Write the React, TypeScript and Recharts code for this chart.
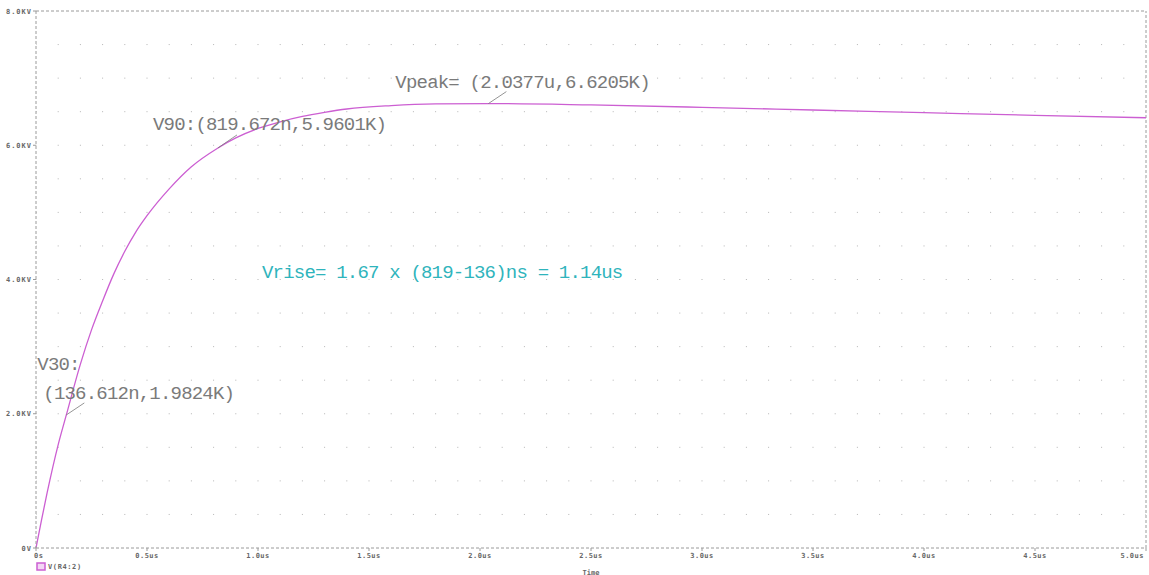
import {
  CartesianGrid,
  Line,
  LineChart,
  ReferenceDot,
  ReferenceLine,
  XAxis,
  YAxis,
} from "recharts";

// transient V(R4:2), time in us, voltage in kV
const TIME_US = [
  0, 0.025, 0.05, 0.1, 0.1366, 0.2, 0.25, 0.3, 0.35, 0.4, 0.45, 0.5, 0.6, 0.7,
  0.8197, 0.9, 1.0, 1.1, 1.2, 1.3, 1.4, 1.6, 1.8, 2.0377, 2.5, 3.0, 3.5, 4.0,
  4.5, 5.0,
];
const VOLT_KV = [
  0, 0.42, 0.82, 1.54, 1.9824, 2.74, 3.25, 3.68, 4.08, 4.42, 4.71, 4.95, 5.35,
  5.68, 5.9601, 6.11, 6.25, 6.35, 6.43, 6.49, 6.54, 6.59, 6.615, 6.6205, 6.6,
  6.565, 6.525, 6.485, 6.445, 6.41,
];
const X_TICKS = [0, 0.5, 1, 1.5, 2, 2.5, 3, 3.5, 4, 4.5, 5];
const X_LABELS = ["0s", "0.5us", "1.0us", "1.5us", "2.0us", "2.5us", "3.0us", "3.5us", "4.0us", "4.5us", "5.0us"];
const Y_TICKS = [0, 2, 4, 6, 8];
const Y_LABELS = ["0V", "2.0KV", "4.0KV", "6.0KV", "8.0KV"];
const GRID_ROWS = [0.5, 1, 1.5, 2, 2.5, 3, 3.5, 4, 4.5, 5, 5.5, 6, 6.5, 7, 7.5];

const CURVE = "#cc5fd2";
const FRAME = "#9a9a9a";
const NOTE = "#7a7a7a";
const CYAN = "#2fb4bc";
const TICK_FONT = "'DejaVu Sans Mono', monospace";
const NOTE_FONT = "'Liberation Mono', monospace";

const data = TIME_US.map((t, i) => ({ t, v: VOLT_KV[i] }));

const noteText = {
  fontFamily: NOTE_FONT,
  fontSize: 19,
  letterSpacing: -0.8,
  fill: NOTE,
};

export default function App() {
  const xTick = (props: any) => {
    const { x, y, payload, index } = props;
    const last = index === X_TICKS.length - 1;
    const anchor = index === 0 ? "start" : last ? "end" : "middle";
    const dx = index === 0 ? -2 : last ? -1 : 0;
    return (
      <text
        x={x + dx}
        y={y + 5}
        textAnchor={anchor}
        fontFamily={TICK_FONT}
        fontSize={7}
        fontWeight="bold"
        letterSpacing={0.5}
        fill="#666"
      >
        {X_LABELS[X_TICKS.indexOf(payload.value)]}
      </text>
    );
  };

  const yTick = (props: any) => {
    const { y, payload } = props;
    return (
      <text
        x={32}
        y={y + 2.5}
        textAnchor="end"
        fontFamily={TICK_FONT}
        fontSize={7}
        fontWeight="bold"
        letterSpacing={1}
        fill="#666"
      >
        {Y_LABELS[Y_TICKS.indexOf(payload.value)]}
      </text>
    );
  };

  const bottomLabel = (props: any) => {
    const vb = props.viewBox;
    return (
      <g>
        <rect x={vb.x + 1} y={vb.y + 15} width={8} height={7} fill="#f3d6f5" stroke={CURVE} strokeWidth={1.5} />
        <text x={vb.x + 12} y={vb.y + 21} fontFamily={TICK_FONT} fontSize={7} fontWeight="bold" letterSpacing={0.6} fill="#666">
          V(R4:2)
        </text>
        <text x={vb.x + vb.width / 2} y={vb.y + 26.5} textAnchor="middle" fontFamily={TICK_FONT} fontSize={7} fontWeight="bold" fill="#666">
          Time
        </text>
      </g>
    );
  };

  return (
    <div style={{ position: "absolute", left: 0, top: 0, background: "#fff" }}>
      <LineChart
        width={1149}
        height={575}
        data={data}
        margin={{ top: 11, right: 3, left: 0, bottom: 0 }}
      >
        <CartesianGrid
          vertical={false}
          horizontalValues={GRID_ROWS}
          stroke="#b5b5b5"
          strokeDasharray="1 21.2"
          strokeDashoffset={0.5}
        />
        <XAxis
          dataKey="t"
          type="number"
          domain={[0, 5]}
          ticks={X_TICKS}
          height={27}
          tickSize={3}
          tickLine={{ stroke: FRAME }}
          axisLine={{ stroke: FRAME, strokeDasharray: "3 2" }}
          tick={xTick}
          label={bottomLabel}
        />
        <YAxis
          type="number"
          domain={[0, 8]}
          ticks={Y_TICKS}
          width={36}
          tickSize={3}
          tickLine={{ stroke: FRAME }}
          axisLine={{ stroke: FRAME, strokeDasharray: "3 2" }}
          tick={yTick}
        />
        <ReferenceLine y={8} stroke={FRAME} strokeDasharray="3 2" />
        <ReferenceLine x={5} stroke={FRAME} strokeDasharray="3 2" />
        <Line
          dataKey="v"
          type="monotone"
          stroke={CURVE}
          strokeWidth={1.3}
          dot={false}
          isAnimationActive={false}
        />
        <ReferenceDot
          x={0.1366}
          y={1.9824}
          r={0}
          shape={(p: any) => (
            <g>
              <line x1={p.cx} y1={p.cy} x2={p.cx + 18} y2={p.cy - 12} stroke={NOTE} strokeWidth={0.8} />
              <text x={p.cx - 29} y={p.cy - 45} {...noteText}>V30:</text>
              <text x={p.cx - 23} y={p.cy - 16} {...noteText}>(136.612n,1.9824K)</text>
            </g>
          )}
        />
        <ReferenceDot
          x={0.8197}
          y={5.9601}
          r={0}
          shape={(p: any) => (
            <g>
              <line x1={p.cx} y1={p.cy} x2={p.cx + 19} y2={p.cy - 13} stroke={NOTE} strokeWidth={0.8} />
              <text x={p.cx - 65} y={p.cy - 18} {...noteText}>V90:(819.672n,5.9601K)</text>
            </g>
          )}
        />
        <ReferenceDot
          x={2.0377}
          y={6.6205}
          r={0}
          shape={(p: any) => (
            <g>
              <line x1={p.cx} y1={p.cy} x2={p.cx + 18} y2={p.cy - 12} stroke={NOTE} strokeWidth={0.8} />
              <text x={p.cx - 93} y={p.cy - 16} {...noteText}>Vpeak= (2.0377u,6.6205K)</text>
            </g>
          )}
        />
        <ReferenceDot
          x={1.018}
          y={4.02}
          r={0}
          shape={(p: any) => (
            <text x={p.cx} y={p.cy} {...noteText} fill={CYAN}>
              Vrise= 1.67 x (819-136)ns = 1.14us
            </text>
          )}
        />
      </LineChart>
    </div>
  );
}
